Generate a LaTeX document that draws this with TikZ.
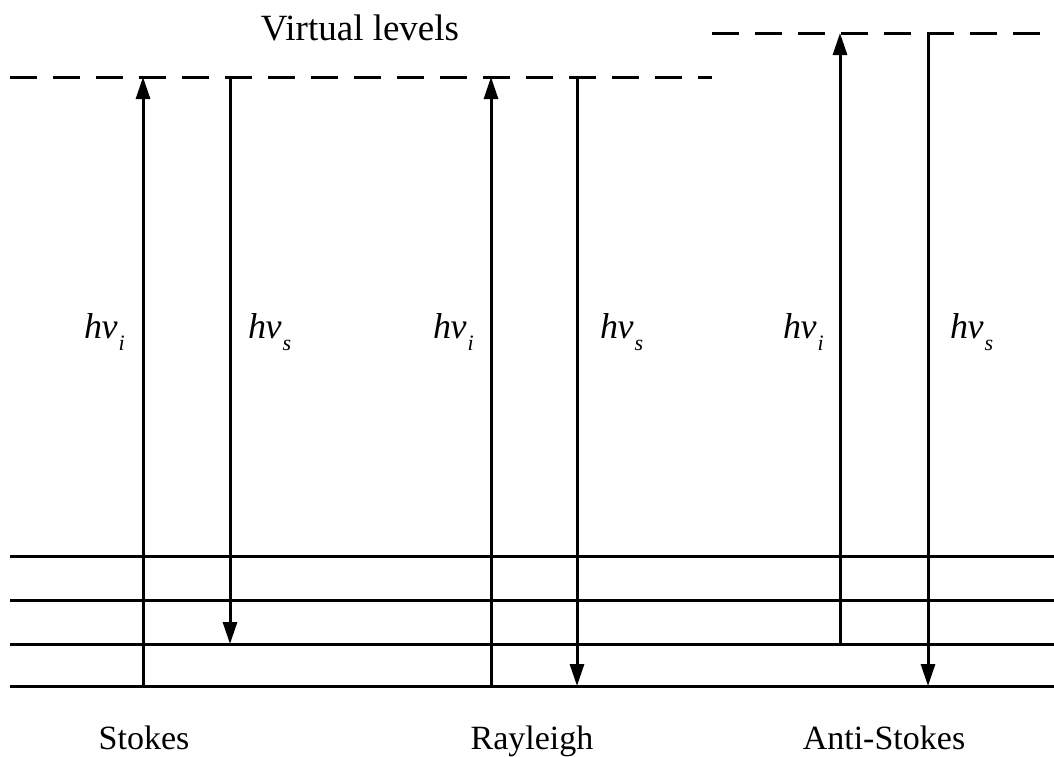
\documentclass[tikz,border=0pt]{standalone}
\usepackage{fontspec}
\setmainfont{Liberation Serif}
\usetikzlibrary{arrows.meta}
\begin{document}
\begin{tikzpicture}[x=1pt,y=-1pt,
  level/.style={line width=3pt},
  virtual/.style={line width=3pt, dash pattern=on 27pt off 16pt},
  photon/.style={line width=3pt, -{Triangle[width=14pt,length=22pt]}},
  lbl/.style={font=\fontsize{34}{40}\selectfont, inner sep=0pt, anchor=base},
  hv/.style={font=\fontsize{36}{40}\selectfont\itshape, inner sep=0pt, anchor=base west}]
\useasboundingbox (0,0) rectangle (1054,756);
\newcommand{\hvsub}[1]{h\kern-0.5pt ν\kern1pt\raisebox{-0.35em}{\fontsize{22}{24}\selectfont #1}}

% virtual levels
\coordinate (vL0) at (10,77);
\coordinate (vL1) at (712,77);
\coordinate (vR0) at (712,33);
\coordinate (vR1) at (1054,33);
\draw[virtual] (vL0) -- (vL1);
\draw[virtual] (vR0) -- (vR1);

% vibrational levels
\foreach \n/\y in {a/556,b/600,c/644,d/686}{
  \coordinate (\n0) at (10,\y);
  \coordinate (\n1) at (1054,\y);
  \draw[level] (\n0) -- (\n1);
}

% Stokes
\coordinate (s1a) at (143,686); \coordinate (s1b) at (143,77);
\coordinate (s2a) at (230,77);  \coordinate (s2b) at (230,644);
\draw[photon] (s1a) -- (s1b);
\draw[photon] (s2a) -- (s2b);
% Rayleigh
\coordinate (r1a) at (491,686); \coordinate (r1b) at (491,77);
\coordinate (r2a) at (577,77);  \coordinate (r2b) at (577,686);
\draw[photon] (r1a) -- (r1b);
\draw[photon] (r2a) -- (r2b);
% Anti-Stokes
\coordinate (a1a) at (840,644); \coordinate (a1b) at (840,33);
\coordinate (a2a) at (928,33);  \coordinate (a2b) at (928,686);
\draw[photon] (a1a) -- (a1b);
\draw[photon] (a2a) -- (a2b);

% photon energies
\node[hv] (hs1) at (84,338) {\hvsub{i}};
\node[hv] (hs2) at (248,338) {\hvsub{s}};
\node[hv] (hr1) at (433,338) {\hvsub{i}};
\node[hv] (hr2) at (600,338) {\hvsub{s}};
\node[hv] (ha1) at (783,338) {\hvsub{i}};
\node[hv] (ha2) at (950,338) {\hvsub{s}};

% captions
\node[lbl, font=\fontsize{37}{42}\selectfont] (vt) at (360,40) {Virtual levels};
\node[lbl] (st) at (144,749) {Stokes};
\node[lbl] (ra) at (532,749) {Rayleigh};
\node[lbl] (as) at (884,749) {Anti-Stokes};
\end{tikzpicture}
\end{document}
